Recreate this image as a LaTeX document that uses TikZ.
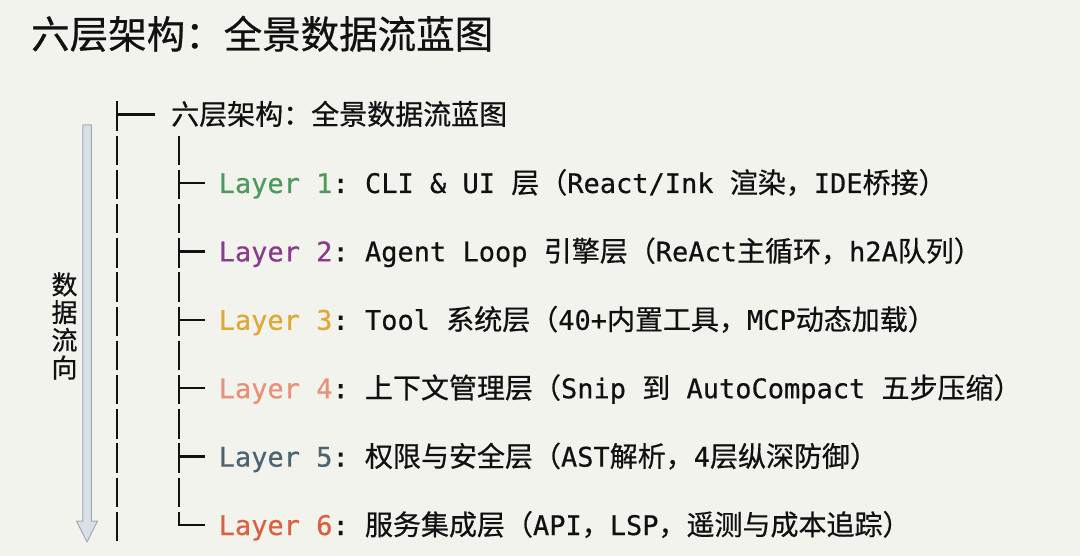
\documentclass[tikz,border=0pt]{standalone}
\usepackage{fontspec}
\setmonofont[FakeBold=0.5]{DejaVu Sans Mono}
\newfontfamily\cjk[FakeBold=0.6]{Noto Sans CJK SC}
\usetikzlibrary{calc}
\definecolor{bgc}{HTML}{F3F3EE}
\definecolor{ink}{HTML}{111111}
\definecolor{cA}{HTML}{4E9A5E}
\definecolor{cB}{HTML}{8A3B8C}
\definecolor{cC}{HTML}{E2A834}
\definecolor{cD}{HTML}{E89179}
\definecolor{cE}{HTML}{4D6470}
\definecolor{cF}{HTML}{D9613F}
\definecolor{flowfill}{HTML}{DAE0E7}
\definecolor{flowline}{HTML}{A2ABB5}
\newcommand\zh[1]{{\cjk\fontsize{28}{30}\selectfont #1}}
\begin{document}
\begin{tikzpicture}[x=1pt,y=-1pt,
  rowtext/.style={anchor=base west, inner sep=0pt, text=ink, font=\ttfamily\fontsize{27}{30}\selectfont},
  treeline/.style={draw=ink, line width=2.3pt},
  colline/.style={treeline, dash pattern=on 29.5pt off 4.7pt},
  flowarrow/.style={fill=flowfill, draw=flowline, line width=1pt, line join=round}]
\fill[bgc] (0,0) rectangle (1080,556);
\useasboundingbox (0,0) rectangle (1080,556);
% title
\node[anchor=base west, inner sep=0pt, text=ink, font=\cjk\fontsize{38.5}{40}\selectfont] (title) at (31,48.5) {六层架构：全景数据流蓝图};
% root
\node[anchor=base west, inner sep=0pt, text=ink, font=\cjk\fontsize{28}{30}\selectfont] (root) at (171,124.6) {六层架构：全景数据流蓝图};
% layers
\node[rowtext] (L1) at (218.5,193.0) {\textcolor{cA}{Layer 1}: CLI \& UI \zh{层（}React/Ink \zh{渲染，}IDE\zh{桥接）}};
\node[rowtext] (L2) at (218.5,261.4) {\textcolor{cB}{Layer 2}: Agent Loop \zh{引擎层（}ReAct\zh{主循环，}h2A\zh{队列）}};
\node[rowtext] (L3) at (218.5,329.8) {\textcolor{cC}{Layer 3}: Tool \zh{系统层（}40+\zh{内置工具，}MCP\zh{动态加载）}};
\node[rowtext] (L4) at (218.5,398.2) {\textcolor{cD}{Layer 4}: \zh{上下文管理层（}Snip \zh{到} AutoCompact \zh{五步压缩）}};
\node[rowtext] (L5) at (218.5,466.6) {\textcolor{cE}{Layer 5}: \zh{权限与安全层（}AST\zh{解析，}4\zh{层纵深防御）}};
\node[rowtext] (L6) at (218.5,535.0) {\textcolor{cF}{Layer 6}: \zh{服务集成层（}API\zh{，}LSP\zh{，遥测与成本追踪）}};
% tree columns
\coordinate (c1top) at (117,101.35);
\coordinate (c1bot) at (117,541.35);
\coordinate (c2top) at (179,135.55);
\coordinate (c2bot) at (179,525);
\draw[colline] (c1top) -- (c1bot);
\draw[colline] (c2top) -- (c2bot);
% branches
\coordinate (b0) at (117,114.6);
\draw[treeline, shorten >=16pt] (b0) -- (b0 -| root.west);
\foreach \i/\y in {1/183.0,2/251.4,3/319.8,4/388.2,5/456.6} {
  \coordinate (b\i) at (179,\y);
  \draw[treeline, shorten >=13.5pt] (b\i) -- (b\i -| L\i.west);
}
\coordinate (b6) at (177.85,525);
\draw[treeline, shorten >=13.5pt] (b6) -- (b6 -| L6.west);
% data-flow arrow
\coordinate (ftop) at (87,125);
\coordinate (fbot) at (87,542);
\draw[flowarrow] ($(ftop)+(-4.25,0)$) -- ($(fbot)+(-4.25,-21)$) -- ($(fbot)+(-10.5,-21)$) -- (fbot)
  -- ($(fbot)+(10.5,-21)$) -- ($(fbot)+(4.25,-21)$) -- ($(ftop)+(4.25,0)$) -- cycle;
\node[inner sep=0pt, text=ink, align=center, font=\cjk\fontsize{26}{27.7}\selectfont] (flowlabel) at (64.5,326) {数\\据\\流\\向};
\end{tikzpicture}
\end{document}
